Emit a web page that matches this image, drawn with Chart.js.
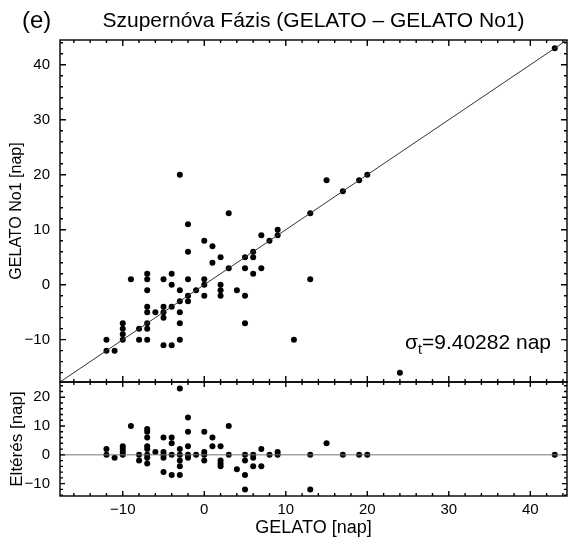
<!DOCTYPE html>
<html>
<head>
<meta charset="utf-8">
<script src="https://cdn.jsdelivr.net/npm/chart.js@4.4.1/dist/chart.umd.min.js"></script>
<style>
  html, body { margin: 0; padding: 0; background: #fff; }
  #box { position: relative; width: 571px; height: 543px; }
  #box canvas { position: absolute; left: 0; top: 0; }
</style>
</head>
<body>
<div id="box">
  <canvas id="fo" width="571" height="543"></canvas>
  <canvas id="elt" width="571" height="543"></canvas>
</div>
<script>
// GELATO vs GELATO No1, supernova phase in days
const gelato = [
  -3, 3, 13, -2, 9, 9, 7, 8, 0, 1, -2, 6, 6, 5, 2, 1, 3, 5, 7, 6,
  -4, -9, -7, -7, -5, -2, 0, 13, -4, 0, 2, -7, -3, -1, 4, 2, -2, 0, 2, 5,
  -3, -2, -7, -5, -4, -6, -7, -5, -3, -5, -10, -7, -3, 5, -10, -8, -7, -10, -10, -12,
  -8, -7, -3, 11, -5, -4, -12, -11, 15, 17, 19, 20, 24, 43
];
const gelatoNo1 = [
  20, 13, 13, 11, 10, 9, 9, 8, 8, 7, 6, 6, 5, 5, 5, 4, 3, 3, 3, 2,
  2, 1, 2, 1, 1, 1, 1, 1, 0, 0, 0, -1, -1, -1, -1, -1, -2, -2, -2, -2,
  -3, -3, -4, -4, -4, -5, -5, -5, -5, -6, -7, -7, -7, -7, -8, -8, -8, -9, -10, -10,
  -10, -10, -10, -10, -11, -11, -12, -12, 19, 17, 19, 20, -16, 43
];
// lower panel: Eltérés (No1 - GELATO)
const elteres = [
  23, 10, 0, 13, 1, 0, 2, 0, 8, 6, 8, 0, -1, 0, 3, 3, 0, -2, -4, -4,
  6, 10, 9, 8, 6, 3, 1, -12, 4, 0, -2, 6, 2, 0, -5, -3, 0, -2, -4, -7,
  0, -1, 3, 1, 0, 1, 2, 0, -2, -1, 3, 0, -4, -12, 2, 0, -1, 1, 0, 2,
  -2, -3, -7, -21, -6, -7, 0, -1, 4, 0, 0, 0, -40, 0
];

const napRange = [-17.7, 44.5];
const diffRange = [-14.3, 25.3];
const mainTicks = [-10, 0, 10, 20, 30, 40];
const diffTicks = [-10, 0, 10, 20];

const titleText = 'Szupernóva Fázis (GELATO \u2013 GELATO No1)';
const panelLabel = '(e)';
const sigmaValue = '9.40282 nap';

const FONT = '"Liberation Sans", Arial, Helvetica, sans-serif';

function minus(v) {
  return v < 0 ? '\u2212' + Math.abs(v) : String(v);
}

function pts(xs, ys) {
  return xs.map((x, i) => ({ x: x, y: ys[i] }));
}

// IDL style frame, inward ticks on all four sides
function framePlugin(yId, maj, min) {
  return {
    id: 'frame',
    afterDraw(chart) {
      const ctx = chart.ctx;
      const x = chart.scales.x, s = chart.scales[yId];
      const { left: L, right: R, top: T, bottom: B } = chart.chartArea;
      ctx.save();
      ctx.strokeStyle = '#000';
      ctx.lineWidth = 1.4;
      ctx.strokeRect(L, T, R - L, B - T);
      ctx.beginPath();
      for (let v = Math.ceil(x.min / 2) * 2; v <= x.max; v += 2) {
        const px = x.getPixelForValue(v);
        const len = v % 10 === 0 ? maj : min;
        ctx.moveTo(px, T); ctx.lineTo(px, T + len);
        ctx.moveTo(px, B); ctx.lineTo(px, B - len);
      }
      for (let v = Math.ceil(s.min / 2) * 2; v <= s.max; v += 2) {
        const py = s.getPixelForValue(v);
        const len = v % 10 === 0 ? maj : min;
        ctx.moveTo(L, py); ctx.lineTo(L + len, py);
        ctx.moveTo(R, py); ctx.lineTo(R - len, py);
      }
      ctx.stroke();
      ctx.restore();
    }
  };
}

const textPlugin = {
  id: 'feliratok',
  afterDraw(chart) {
    const ctx = chart.ctx;
    const { left: L, right: R, bottom: B } = chart.chartArea;
    ctx.save();
    ctx.fillStyle = '#000';
    ctx.textBaseline = 'alphabetic';
    ctx.textAlign = 'center';
    ctx.font = '21px ' + FONT;
    ctx.fillText(titleText, (L + R) / 2, 27);
    ctx.textAlign = 'left';
    ctx.font = '24px ' + FONT;
    ctx.fillText(panelLabel, 22, 28);

    // sigma label
    const base = B - 33;
    ctx.font = '21px ' + FONT;
    const wS = ctx.measureText('\u03c3').width;
    const wRest = ctx.measureText('=' + sigmaValue).width;
    ctx.font = '14px ' + FONT;
    const wT = ctx.measureText('t').width;
    let tx = R - 16 - (wS + wT + wRest);
    ctx.font = '21px ' + FONT;
    ctx.fillText('\u03c3', tx, base);
    tx += wS;
    ctx.font = '14px ' + FONT;
    ctx.fillText('t', tx, base + 5);
    tx += wT;
    ctx.font = '21px ' + FONT;
    ctx.fillText('=' + sigmaValue, tx, base);
    ctx.restore();
  }
};

function yAxis(range, ticks, title, titleSize) {
  return {
    type: 'linear',
    position: 'left',
    min: range[0],
    max: range[1],
    grid: { display: false, drawTicks: false, tickLength: 0 },
    border: { display: false },
    ticks: {
      color: '#000',
      padding: 10,
      autoSkip: false,
      font: { family: FONT, size: 15 },
      callback: v => minus(v)
    },
    afterBuildTicks: s => { s.ticks = ticks.map(v => ({ value: v })); },
    title: {
      display: true,
      text: title,
      color: '#000',
      font: { family: FONT, size: titleSize },
      padding: { top: 7, bottom: 0 }
    },
    afterFit: s => { s.width = 60; }
  };
}

const base = {
  responsive: false,
  animation: false,
  devicePixelRatio: 1,
  plugins: { legend: { display: false }, tooltip: { enabled: false } }
};

// upper panel
new Chart(document.getElementById('fo'), {
  type: 'scatter',
  data: {
    datasets: [
      {
        label: 'egyenes',
        type: 'line',
        data: [{ x: napRange[0], y: napRange[0] }, { x: napRange[1], y: napRange[1] }],
        borderColor: '#333',
        borderWidth: 1,
        pointRadius: 0
      },
      {
        label: 'GELATO No1',
        data: pts(gelato, gelatoNo1),
        backgroundColor: '#000',
        borderWidth: 0,
        pointRadius: 3
      }
    ]
  },
  options: Object.assign({}, base, {
    layout: { padding: { left: 0, right: 2, top: 40, bottom: 161 } },
    scales: {
      x: { type: 'linear', display: false, min: napRange[0], max: napRange[1] },
      y: yAxis(napRange, mainTicks, 'GELATO No1 [nap]', 16)
    }
  }),
  plugins: [framePlugin('y', 6, 3), textPlugin]
});

// lower panel
new Chart(document.getElementById('elt'), {
  type: 'scatter',
  data: {
    datasets: [
      {
        label: 'nulla',
        type: 'line',
        data: [{ x: napRange[0], y: 0 }, { x: napRange[1], y: 0 }],
        borderColor: '#777',
        borderWidth: 1,
        pointRadius: 0
      },
      {
        label: 'Eltérés',
        data: pts(gelato, elteres),
        backgroundColor: '#000',
        borderWidth: 0,
        pointRadius: 3
      }
    ]
  },
  options: Object.assign({}, base, {
    layout: { padding: { left: 0, right: 2, top: 382, bottom: 0 } },
    scales: {
      x: {
        type: 'linear',
        position: 'bottom',
        min: napRange[0],
        max: napRange[1],
        grid: { display: false, drawTicks: false, tickLength: 0 },
        border: { display: false },
        ticks: {
          color: '#000',
          padding: 5,
          maxRotation: 0,
          font: { family: FONT, size: 15 },
          callback: v => minus(v)
        },
        afterBuildTicks: s => { s.ticks = mainTicks.map(v => ({ value: v })); },
        title: {
          display: true,
          text: 'GELATO [nap]',
          color: '#000',
          font: { family: FONT, size: 18 },
          padding: { top: 0, bottom: 4 }
        },
        afterFit: s => { s.height = 47; }
      },
      y: yAxis(diffRange, diffTicks, 'Eltérés [nap]', 17)
    }
  }),
  plugins: [framePlugin('y', 5, 3)]
});
</script>
</body>
</html>
